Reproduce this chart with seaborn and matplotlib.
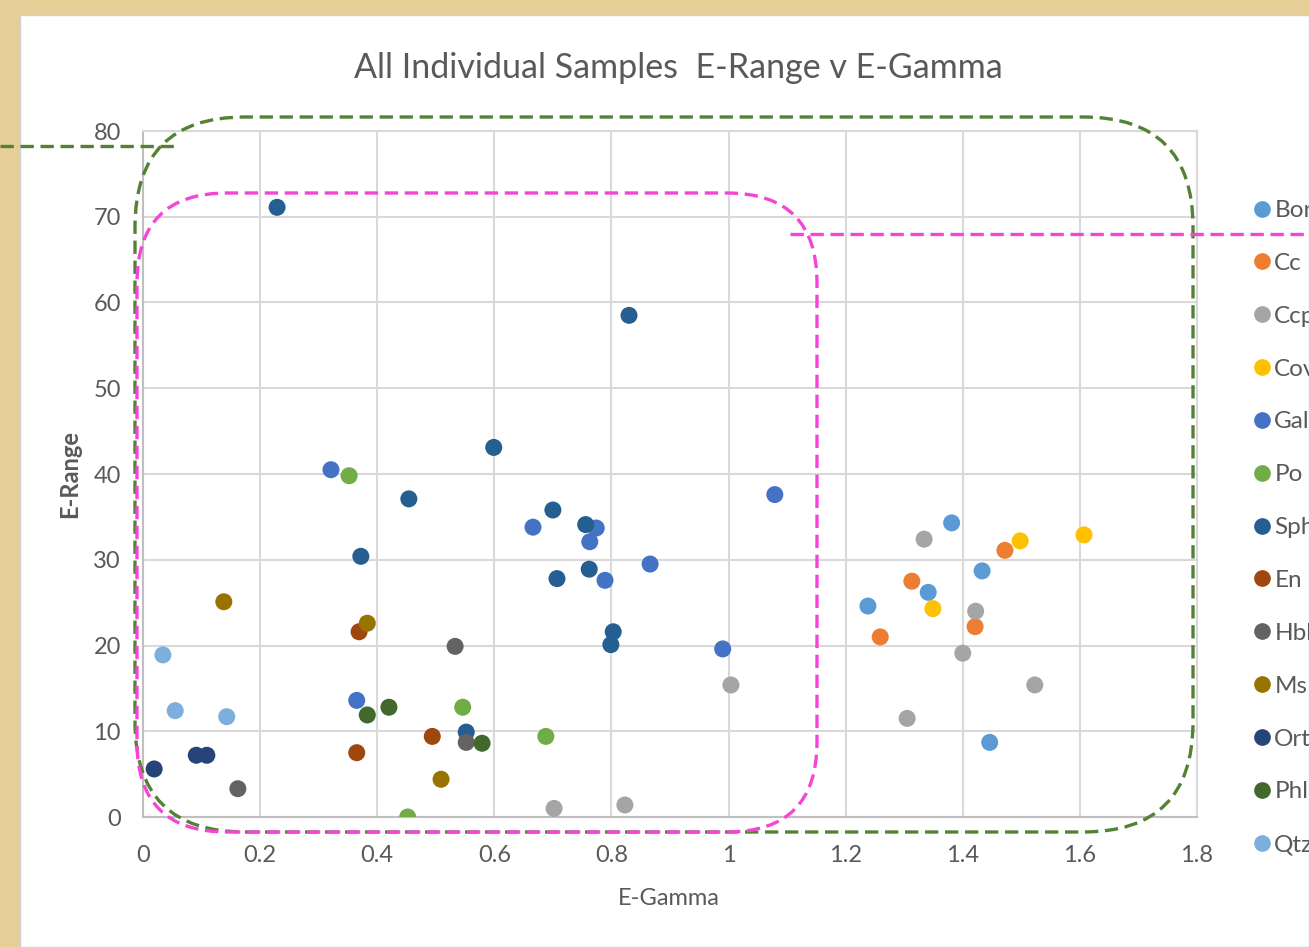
import pandas as pd
import seaborn as sns
import matplotlib.pyplot as plt
from matplotlib.patches import FancyBboxPatch, Rectangle
from matplotlib.lines import Line2D
from matplotlib.transforms import IdentityTransform

# Data, one pair of lists per sample type
bor_x = [1.238, 1.341, 1.381, 1.433, 1.446]
bor_y = [24.6, 26.2, 34.3, 28.7, 8.7]
cc_x = [1.259, 1.313, 1.421, 1.472]
cc_y = [21.0, 27.5, 22.2, 31.1]
ccp_x = [0.702, 0.823, 1.004, 1.305, 1.334, 1.400, 1.422, 1.523]
ccp_y = [1.0, 1.4, 15.4, 11.5, 32.4, 19.1, 24.0, 15.4]
cov_x = [1.349, 1.498, 1.607]
cov_y = [24.3, 32.2, 32.9]
gal_x = [0.321, 0.365, 0.666, 0.774, 0.763, 0.789, 0.866, 0.990, 1.079]
gal_y = [40.5, 13.6, 33.8, 33.7, 32.1, 27.6, 29.5, 19.6, 37.6]
po_x = [0.352, 0.452, 0.546, 0.688]
po_y = [39.8, 0.0, 12.8, 9.4]
sph_x = [0.229, 0.372, 0.454, 0.599, 0.700, 0.707, 0.756, 0.762, 0.803, 0.799, 0.830, 0.552]
sph_y = [71.1, 30.4, 37.1, 43.1, 35.8, 27.8, 34.1, 28.9, 21.6, 20.1, 58.5, 9.9]
en_x = [0.369, 0.365, 0.494]
en_y = [21.6, 7.5, 9.4]
hbl_x = [0.162, 0.533, 0.552]
hbl_y = [3.3, 19.9, 8.7]
ms_x = [0.138, 0.383, 0.509]
ms_y = [25.1, 22.6, 4.4]
ort_x = [0.019, 0.091, 0.109]
ort_y = [5.6, 7.2, 7.2]
phl_x = [0.383, 0.420, 0.579]
phl_y = [11.9, 12.8, 8.6]
qtz_x = [0.034, 0.055, 0.143]
qtz_y = [18.9, 12.4, 11.7]

groups = {
    "Bor": (bor_x, bor_y, "#5B9BD5"),
    "Cc": (cc_x, cc_y, "#ED7D31"),
    "Ccp": (ccp_x, ccp_y, "#A5A5A5"),
    "Cov": (cov_x, cov_y, "#FFC000"),
    "Gal": (gal_x, gal_y, "#4472C4"),
    "Po": (po_x, po_y, "#70AD47"),
    "Sph": (sph_x, sph_y, "#255E91"),
    "En": (en_x, en_y, "#9E480E"),
    "Hbl": (hbl_x, hbl_y, "#636363"),
    "Ms": (ms_x, ms_y, "#997300"),
    "Ort": (ort_x, ort_y, "#264478"),
    "Phl": (phl_x, phl_y, "#43682B"),
    "Qtz": (qtz_x, qtz_y, "#7CAFDD"),
}

rows = []
for name, (xs, ys, _) in groups.items():
    for x, y in zip(xs, ys):
        rows.append({"E-Gamma": x, "E-Range": y, "Sample": name})
df = pd.DataFrame(rows)
palette = {name: c for name, (_, _, c) in groups.items()}

sns.set_style("white")
plt.rcParams['font.family'] = ['Lato', 'DejaVu Sans']
text_grey = "#595959"

W, H = 1309, 947
fig = plt.figure(figsize=(W / 100, H / 100), dpi=100)
fig.patch.set_facecolor("#E6CF96")
# white chart area over the parchment
fig.add_artist(Rectangle((20, 0), W - 20, H - 15, transform=IdentityTransform(),
                         facecolor="white", edgecolor="#D0D0D0", lw=1, zorder=0))

ax = fig.add_axes([143 / W, 1 - 817 / H, (1197 - 143) / W, (817 - 131) / H])
ax.set_facecolor("none")
sns.scatterplot(data=df, x="E-Gamma", y="E-Range", hue="Sample", palette=palette,
                s=150, linewidth=0, ax=ax, zorder=3, legend=False)

ax.set_xlim(0, 1.8)
ax.set_ylim(0, 80)
ax.set_xticks([i * 0.2 for i in range(10)])
ax.set_xticklabels(["0", "0.2", "0.4", "0.6", "0.8", "1", "1.2", "1.4", "1.6", "1.8"])
ax.set_yticks(range(0, 81, 10))
ax.tick_params(axis="both", length=0, labelsize=17, colors=text_grey)
ax.tick_params(axis="x", pad=20)
ax.tick_params(axis="y", pad=16)
ax.grid(True, color="#D9D9D9", lw=1.5)
ax.set_axisbelow(True)
for side in ["top", "right"]:
    ax.spines[side].set_color("#D9D9D9")
    ax.spines[side].set_linewidth(1.5)
for side in ["left", "bottom"]:
    ax.spines[side].set_color("#BFBFBF")
    ax.spines[side].set_linewidth(1.5)
ax.set_xlabel("")
ax.set_ylabel("")

fig.text(678 / W, 1 - 68 / H, "All Individual Samples  E-Range v E-Gamma",
         ha="center", va="center", fontsize=24.5, color=text_grey)
fig.text(669 / W, 1 - 898 / H, "E-Gamma", ha="center", va="center",
         fontsize=17, color=text_grey)
fig.text(70 / W, 1 - 474 / H, "E-Range", ha="center", va="center", rotation=90,
         fontsize=17, color=text_grey, fontweight="bold")

# legend, cut off by the right edge like the original
handles = [Line2D([], [], marker="o", ls="", color=palette[n], markersize=11) for n in groups]
fig.legend(handles, list(groups), loc="upper left", bbox_to_anchor=(1250 / W, 1 - 200 / H),
           frameon=False, fontsize=17.5, labelspacing=1.31, handletextpad=0.0,
           handlelength=1.0, labelcolor=text_grey, borderaxespad=0, borderpad=0)

# dashed rounded frames
green = "#548235"
magenta = "#F545D6"
dash = (0, (4, 2))
fig.add_artist(FancyBboxPatch((135, H - 832), 1193 - 135, 832 - 117,
                              boxstyle="round,pad=0,rounding_size=110",
                              transform=IdentityTransform(), fill=False,
                              edgecolor=green, lw=2.4, ls=dash, zorder=5))
fig.add_artist(FancyBboxPatch((137, H - 832), 817 - 137, 832 - 193,
                              boxstyle="round,pad=0,rounding_size=90",
                              transform=IdentityTransform(), fill=False,
                              edgecolor=magenta, lw=2.4, ls=dash, zorder=5))
fig.add_artist(Line2D([0, 177], [H - 146, H - 146], transform=IdentityTransform(),
                      color=green, lw=2.4, ls=dash, zorder=5))
fig.add_artist(Line2D([790, W], [H - 234, H - 234], transform=IdentityTransform(),
                      color=magenta, lw=2.4, ls=dash, zorder=5))

fig.savefig("out.png", dpi=100)
